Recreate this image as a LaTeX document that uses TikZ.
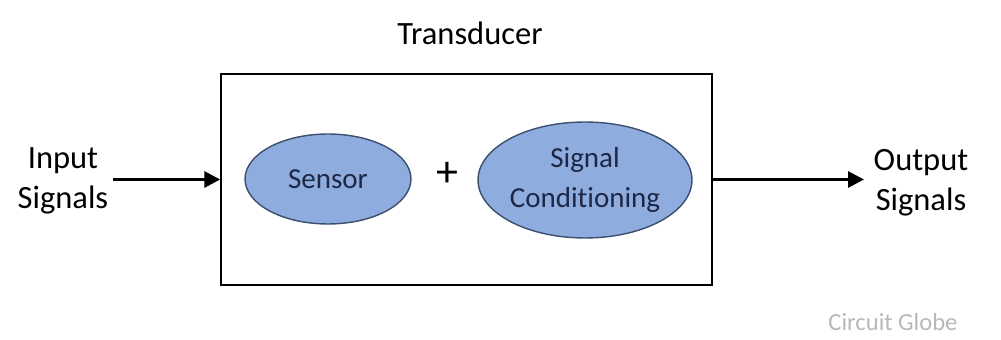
\documentclass[tikz,border=0pt]{standalone}
\usepackage{fontspec}
\setmainfont[Ligatures=NoCommon]{Carlito}
\usepackage{xcolor}
\usetikzlibrary{arrows.meta,shapes.geometric}

\definecolor{blobfill}{RGB}{142,172,222}
\definecolor{blobline}{RGB}{60,80,110}
\definecolor{blobtext}{RGB}{30,40,70}

\begin{document}
\begin{tikzpicture}[x=0.02cm, y=-0.02cm,
    lbl/.style={font=\fontsize{18.5}{22.5}\selectfont, align=center, inner sep=0pt},
    blob/.style={ellipse, draw=blobline, line width=0.8pt, fill=blobfill,
      text=blobtext, font=\fontsize{16.5}{22.5}\selectfont, align=center, inner sep=0pt},
    sig/.style={line width=1.7pt, -{Triangle[length=9pt,width=9pt]}}]
  \useasboundingbox (0,0) rectangle (1001,340);
  % outer block
  \node[draw, line width=0.9pt, minimum width=9.82cm, minimum height=4.22cm,
    inner sep=0pt] (box) at (466.5,179.5) {};
  \node[lbl, anchor=base] (title) at (470,45) {Transducer};
  % the two parts inside
  \node[blob, minimum width=3.32cm, minimum height=1.8cm] (sensor) at (328,179) {Sensor};
  \node[blob, minimum width=4.28cm, minimum height=2.32cm] (cond) at (585,180) {Signal\\Conditioning};
  \node[font=\fontsize{25}{25}\selectfont, inner sep=0pt] (plus) at (447,174) {+};
  % signals in and out
  \node[lbl] (inlbl) at (63,181) {Input\\Signals};
  \node[lbl] (outlbl) at (921,183) {Output\\Signals};
  \coordinate (instart) at (113,179.5);
  \coordinate (outend) at (864,179.5);
  \draw[sig] (instart) -- (box.west);
  \draw[sig] (box.east) -- (outend);
  \node[text=black!28, font=\fontsize{14}{14}\selectfont, inner sep=0pt] (mark) at (893,322) {Circuit Globe};
\end{tikzpicture}
\end{document}
